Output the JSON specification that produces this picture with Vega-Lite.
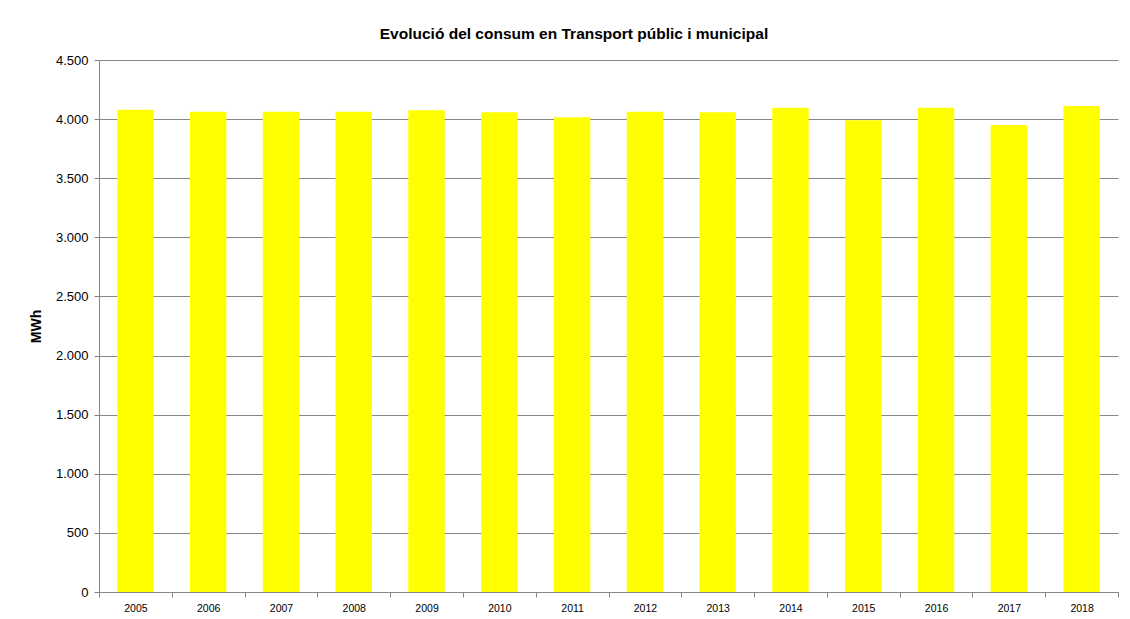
{
  "$schema": "https://vega.github.io/schema/vega-lite/v6.json",
  "autosize": {"type": "none"},
  "width": 1019,
  "height": 532,
  "padding": {"left": 99, "top": 60, "right": 12, "bottom": 27},
  "background": "white",
  "config": {
    "locale": {"number": {"decimal": ",", "thousands": ".", "grouping": [3], "currency": ["", " €"]}},
    "view": {"stroke": null},
    "font": "Liberation Sans"
  },
  "title": {
    "text": "Evolució del consum en Transport públic i municipal",
    "font": "Liberation Sans",
    "fontSize": 15.5,
    "fontWeight": "bold",
    "color": "#000000",
    "anchor": "middle",
    "frame": "bounds",
    "offset": 12
  },
  "data": {
    "values": [
      {"year": "2005", "mwh": 4080},
      {"year": "2006", "mwh": 4062},
      {"year": "2007", "mwh": 4062},
      {"year": "2008", "mwh": 4062},
      {"year": "2009", "mwh": 4075},
      {"year": "2010", "mwh": 4057},
      {"year": "2011", "mwh": 4015},
      {"year": "2012", "mwh": 4062},
      {"year": "2013", "mwh": 4057},
      {"year": "2014", "mwh": 4097},
      {"year": "2015", "mwh": 3990},
      {"year": "2016", "mwh": 4097},
      {"year": "2017", "mwh": 3950},
      {"year": "2018", "mwh": 4110}
    ]
  },
  "mark": {"type": "bar", "color": "#FFFF00", "width": {"band": 0.5}},
  "encoding": {
    "x": {
      "field": "year",
      "type": "ordinal",
      "scale": {"paddingInner": 0, "paddingOuter": 0},
      "axis": {
        "title": null,
        "labelAngle": 0,
        "labelFont": "Liberation Sans",
        "labelFontSize": 10.5,
        "labelColor": "#000000",
        "labelPadding": 6,
        "tickBand": "extent",
        "tickSize": 5,
        "tickColor": "#868686",
        "domainColor": "#868686",
        "grid": false
      }
    },
    "y": {
      "field": "mwh",
      "type": "quantitative",
      "scale": {"domain": [0, 4500], "nice": false},
      "axis": {
        "title": "MWh",
        "titleFont": "Liberation Sans",
        "titleFontSize": 14,
        "titleFontWeight": "bold",
        "titleColor": "#000000",
        "titlePadding": 12,
        "values": [0, 500, 1000, 1500, 2000, 2500, 3000, 3500, 4000, 4500],
        "format": ",d",
        "labelFont": "Liberation Sans",
        "labelFontSize": 13,
        "labelColor": "#000000",
        "labelPadding": 6,
        "tickSize": 5,
        "tickColor": "#868686",
        "domainColor": "#868686",
        "grid": true,
        "gridColor": "#868686",
        "gridOpacity": 1
      }
    }
  }
}
